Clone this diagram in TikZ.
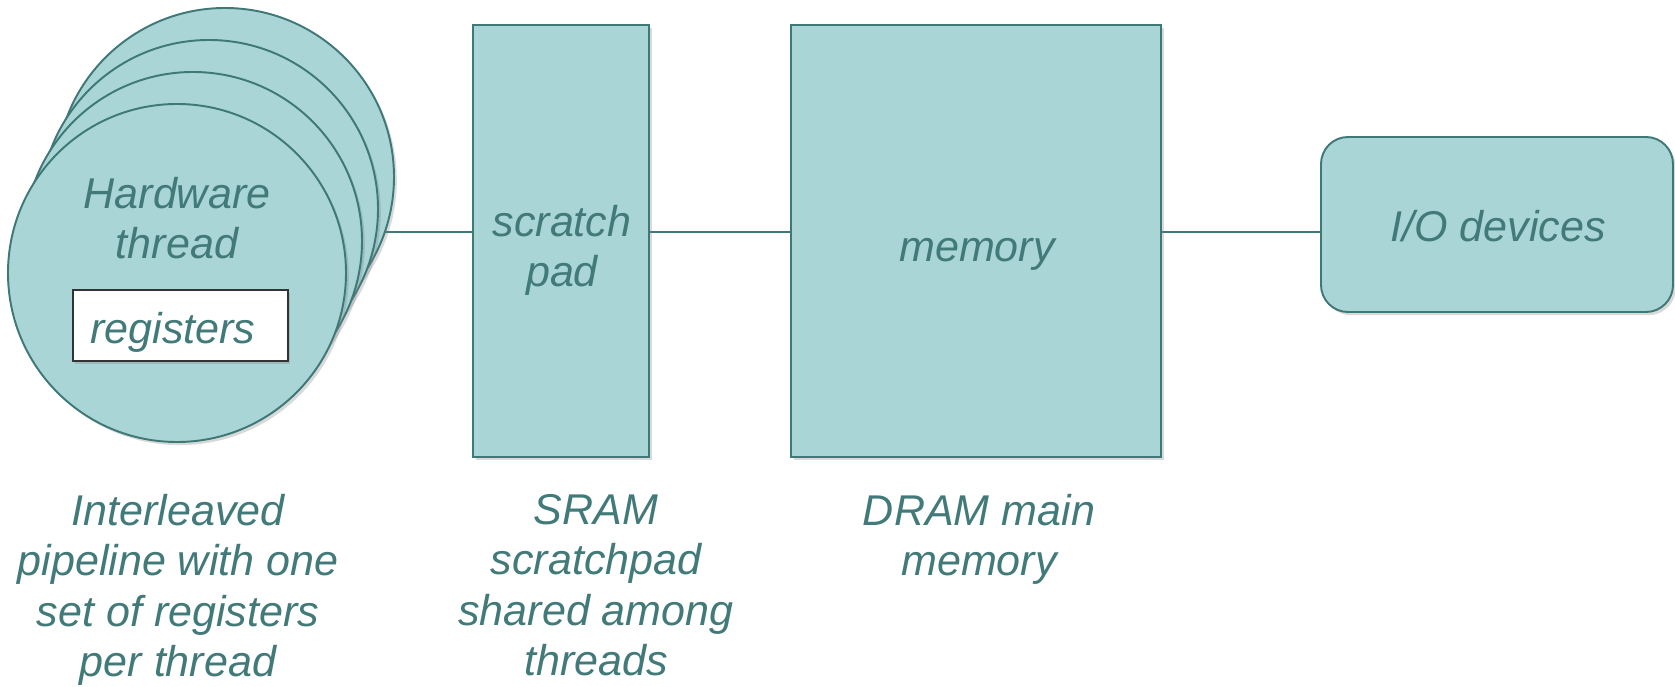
\documentclass[tikz,border=0pt]{standalone}
\usepackage{fontspec}
\setmainfont{Liberation Sans}
\usetikzlibrary{shadows,backgrounds}

\definecolor{padfill}{HTML}{A9D5D6}
\definecolor{padline}{HTML}{3E7877}
\definecolor{padtext}{HTML}{417A79}

\tikzset{
  unit/.style={draw=padline,fill=padfill,line width=1.1pt,
    drop shadow={shadow xshift=1.6pt,shadow yshift=-1.8pt,opacity=.3}},
  thread/.style={unit,circle,minimum size=67.6mm,inner sep=0pt},
  label/.style={text=padtext,font=\fontsize{24.5}{28.5}\selectfont\itshape,
    align=center,inner sep=0pt},
  caption/.style={label,font=\fontsize{24.5}{28.7}\selectfont\itshape,anchor=north},
  link/.style={draw=padline,line width=1.1pt}
}

\begin{document}
\begin{tikzpicture}[x=0.2mm,y=-0.2mm]
  \useasboundingbox (0,0) rectangle (1675,687);

  % stack of hardware threads, back to front
  \foreach \i in {3,2,1,0}
    \node[thread] (th\i) at (177+16*\i,273-32*\i) {};
  \node[label,anchor=north] (hwt) at (177,177) {Hardware\\thread};
  \node[draw=black!80,fill=white,line width=0.9pt,minimum width=43mm,
    minimum height=14.2mm,
    drop shadow={shadow xshift=1.4pt,shadow yshift=-1.6pt,opacity=.3}]
    (regs) at (180.5,325.5) {};
  \node[label] at (173,332) {registers};

  \node[unit,minimum width=35.2mm,minimum height=86.4mm] (pad) at (561,241) {};
  \node[label] at (562,250) {scratch\\pad};
  \node[unit,minimum width=74mm,minimum height=86.4mm] (mem) at (976,241) {};
  \node[label] at (977,254) {memory};
  \node[unit,rounded corners=5.4mm,minimum width=70.4mm,minimum height=35mm]
    (io) at (1497,224.5) {};
  \node[label] at (1498,226) {I/O devices};

  % bus line
  \coordinate (bus) at (0,232);
  \begin{scope}[on background layer]
    \draw[link] (th3 |- bus) -- (pad.west |- bus);
    \draw[link] (pad.east |- bus) -- (mem.west |- bus);
    \draw[link] (mem.east |- bus) -- (io.west |- bus);
  \end{scope}

  % captions
  \node[caption] (capthread) at (178,494)
    {Interleaved\\pipeline with one\\set of registers\\per thread};
  \node[caption] (cappad) at (596,494)
    {SRAM\\scratchpad\\shared among\\threads};
  \node[caption] (capmem) at (979,494) {DRAM main\\memory};
\end{tikzpicture}
\end{document}
